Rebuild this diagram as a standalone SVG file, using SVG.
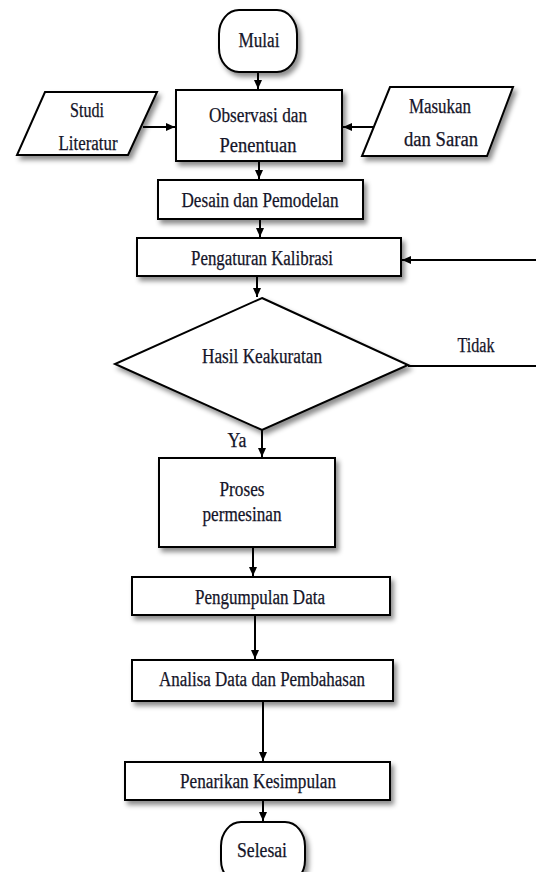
<svg xmlns="http://www.w3.org/2000/svg" width="536" height="872" viewBox="0 0 536 872">
<defs>
<filter id="sh" x="-20%" y="-20%" width="140%" height="150%">
<feDropShadow dx="3" dy="4" stdDeviation="2.5" flood-color="#000" flood-opacity="0.45"/>
</filter>
<marker id="ah" markerWidth="10" markerHeight="10" refX="9" refY="5" orient="auto" markerUnits="userSpaceOnUse">
<path d="M0,1 L9,5 L0,9 Z" fill="#000"/>
</marker>
<style>
.s{fill:#fff;stroke:#000;stroke-width:2;filter:url(#sh)}
.c{fill:none;stroke:#000;stroke-width:2}
.t{font-family:"Liberation Serif","Times New Roman",serif;font-size:20px;fill:#141428;stroke:#141428;stroke-width:0.25;text-anchor:middle}
</style>
</defs>
<rect width="536" height="872" fill="#fff"/>
<g id="connectors">
<path class="c" d="M258,72 V89" marker-end="url(#ah)"/>
<path class="c" d="M143,127 H175" marker-end="url(#ah)"/>
<path class="c" d="M373,127 H343" marker-end="url(#ah)"/>
<path class="c" d="M259,161 V179" marker-end="url(#ah)"/>
<path class="c" d="M260,219 V237" marker-end="url(#ah)"/>
<path class="c" d="M257,276 V297" marker-end="url(#ah)"/>
<path class="c" d="M262,430 V457" marker-end="url(#ah)"/>
<path class="c" d="M253,547 V576" marker-end="url(#ah)"/>
<path class="c" d="M255,615 V659" marker-end="url(#ah)"/>
<path class="c" d="M263,701 V761" marker-end="url(#ah)"/>
<path class="c" d="M263,800 V821" marker-end="url(#ah)"/>
<path class="c" d="M408,366 H545 V260 H402" marker-end="url(#ah)"/>
<text class="t" x="476" y="352" textLength="37" lengthAdjust="spacingAndGlyphs">Tidak</text>
<text class="t" x="237" y="447" textLength="19" lengthAdjust="spacingAndGlyphs">Ya</text>
</g>
<g id="mulai">
<rect class="s" x="219" y="10" width="78" height="62" rx="20" ry="24"/>
<text class="t" x="259" y="47" textLength="41" lengthAdjust="spacingAndGlyphs">Mulai</text>
</g>
<g id="studi">
<polygon class="s" points="45,92 157,92 128,155 17,155"/>
<text class="t" x="87" y="117" textLength="34" lengthAdjust="spacingAndGlyphs">Studi</text>
<text class="t" x="88" y="150" textLength="59" lengthAdjust="spacingAndGlyphs">Literatur</text>
</g>
<g id="observasi">
<rect class="s" x="176" y="90" width="166" height="71"/>
<text class="t" x="258" y="122" textLength="98" lengthAdjust="spacingAndGlyphs">Observasi dan</text>
<text class="t" x="258" y="152" textLength="77" lengthAdjust="spacingAndGlyphs">Penentuan</text>
</g>
<g id="masukan">
<polygon class="s" points="390,87 513,87 487,156 362,156"/>
<text class="t" x="440" y="113" textLength="62" lengthAdjust="spacingAndGlyphs">Masukan</text>
<text class="t" x="441" y="146" textLength="74" lengthAdjust="spacingAndGlyphs">dan Saran</text>
</g>
<g id="desain">
<rect class="s" x="158" y="180" width="205" height="39"/>
<text class="t" x="260" y="207" textLength="157" lengthAdjust="spacingAndGlyphs">Desain dan Pemodelan</text>
</g>
<g id="pengaturan">
<rect class="s" x="137" y="238" width="264" height="38"/>
<text class="t" x="262" y="265" textLength="142" lengthAdjust="spacingAndGlyphs">Pengaturan Kalibrasi</text>
</g>
<g id="hasil">
<polygon class="s" points="262,298 408,365 262,430 115,364"/>
<text class="t" x="262" y="363" textLength="120" lengthAdjust="spacingAndGlyphs">Hasil Keakuratan</text>
</g>
<g id="proses">
<rect class="s" x="159" y="458" width="176" height="89"/>
<text class="t" x="242" y="496" textLength="45" lengthAdjust="spacingAndGlyphs">Proses</text>
<text class="t" x="242" y="521" textLength="79" lengthAdjust="spacingAndGlyphs">permesinan</text>
</g>
<g id="pengumpulan">
<rect class="s" x="132" y="577" width="258" height="38"/>
<text class="t" x="260" y="604" textLength="130" lengthAdjust="spacingAndGlyphs">Pengumpulan Data</text>
</g>
<g id="analisa">
<rect class="s" x="132" y="660" width="261" height="41"/>
<text class="t" x="262" y="686" textLength="206" lengthAdjust="spacingAndGlyphs">Analisa Data dan Pembahasan</text>
</g>
<g id="penarikan">
<rect class="s" x="125" y="762" width="265" height="38"/>
<text class="t" x="258" y="788" textLength="156" lengthAdjust="spacingAndGlyphs">Penarikan Kesimpulan</text>
</g>
<g id="selesai">
<rect class="s" x="221" y="822" width="84" height="62" rx="20" ry="24"/>
<text class="t" x="262" y="857" textLength="50" lengthAdjust="spacingAndGlyphs">Selesai</text>
</g>
</svg>
